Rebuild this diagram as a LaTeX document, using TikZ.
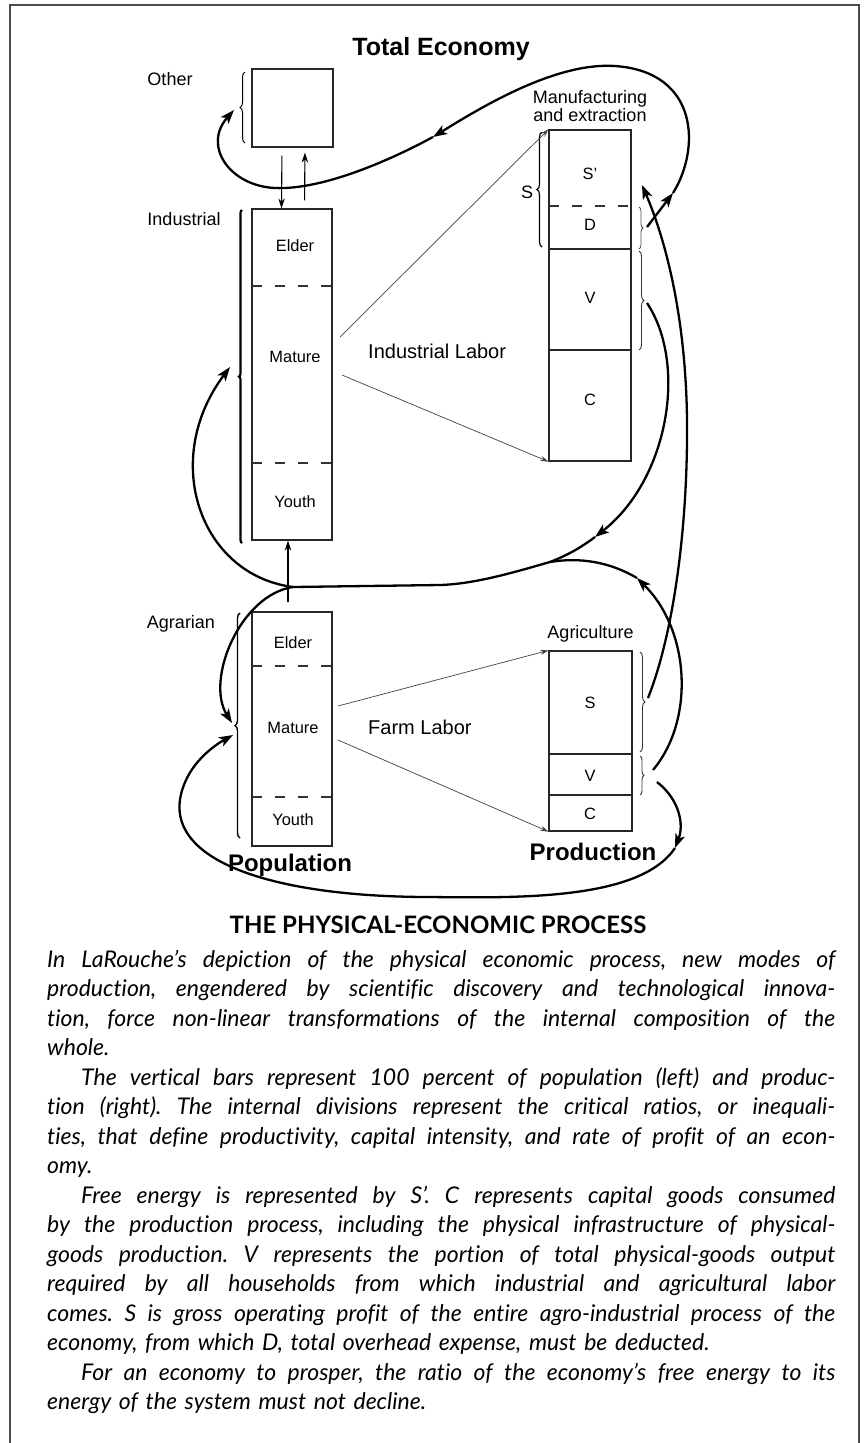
\documentclass[tikz,border=0pt]{standalone}
\usepackage{fontspec}
\setmainfont{Liberation Sans}
\newfontfamily\capfont[Ligatures={NoCommon}]{Lato}
\usetikzlibrary{arrows.meta,decorations.pathreplacing}

% one justified caption line of fixed width
\newcommand{\jl}[1]{\leavevmode\hbox to 788pt{\spaceskip=0.25em plus 1fil minus 0.1em\relax #1}\\}

\begin{document}
\begin{tikzpicture}[x=1pt,y=-1pt,
  box/.style={draw=black!85, line width=1.2pt, inner sep=0pt},
  divdash/.style={line width=1.2pt, draw=black!80, dash pattern=on 10pt off 13pt},
  divline/.style={line width=1.2pt, draw=black!85},
  flowline/.style={line width=2.3pt},
  flow/.style={flowline, -{Stealth[length=14pt,width=10pt,inset=3.5pt]}},
  labor/.style={line width=0.7pt, draw=black!75, -{Stealth[length=8pt,width=5pt]}},
  link/.style={line width=1.1pt, -{Stealth[length=10pt,width=6.5pt]}},
  bracel/.style={decorate, decoration={brace, amplitude=5pt}, line width=1pt},
  bracethick/.style={decorate, decoration={brace, amplitude=3pt}, line width=2.2pt},
  side/.style={font=\fontsize{18}{18}\selectfont, inner sep=0pt, anchor=base},
  inbox/.style={font=\fontsize{16.4}{17}\selectfont, inner sep=0pt, anchor=base},
  mid/.style={font=\fontsize{20}{20}\selectfont, inner sep=0pt, anchor=base west},
  heavy/.style={font=\bfseries\fontsize{24}{24}\selectfont, inner sep=0pt, anchor=base}
]
\useasboundingbox (0,0) rectangle (863,1443);

% frame
\draw[line width=1.6pt, black!70] (10,1443) -- (10,5) -- (859,5) -- (859,1443);

% title
\node[font=\bfseries\fontsize{25}{25}\selectfont, inner sep=0pt, anchor=base] (title) at (441,55) {Total Economy};

% population bars
\node[box, minimum width=81pt, minimum height=78pt] (other) at (292.5,108) {};
\node[box, minimum width=80pt, minimum height=331pt] (ind) at (292,374.5) {};
\node[box, minimum width=80pt, minimum height=234pt] (agr) at (292,729) {};
\draw[divdash] (252,286) -- (332,286);
\draw[divdash] (252,463) -- (332,463);
\draw[divdash] (252,666) -- (332,666);
\draw[divdash] (252,797) -- (332,797);

% production bars
\node[box, minimum width=82pt, minimum height=331pt] (man) at (590,295.5) {};
\node[box, minimum width=83pt, minimum height=180pt] (agri) at (590.5,741) {};
\draw[divdash] (549,206) -- (631,206);
\draw[divline] (549,249) -- (631,249);
\draw[divline] (549,350) -- (631,350);
\draw[divline] (549,754) -- (632,754);
\draw[divline] (549,795) -- (632,795);

% side labels
\node[side] (lother) at (170,85) {Other};
\node[side] (lind) at (184,225) {Industrial};
\node[side] (lagr) at (181,628.5) {Agrarian};
\node[side, align=center, font=\fontsize{18}{18}\selectfont, anchor=base] (lman) at (590,121) {Manufacturing\\and extraction};
\node[side] (lagri) at (590.5,638) {Agriculture};
\node[side] (lS) at (527,198) {S};

% labels inside the bars
\node[inbox] (ie) at (295,251) {Elder};
\node[inbox] (im) at (295,362) {Mature};
\node[inbox] (iy) at (295,507) {Youth};
\node[inbox] (ae) at (293,648) {Elder};
\node[inbox] (am) at (293,733) {Mature};
\node[inbox] (ay) at (293,825) {Youth};
\node[inbox] (ms) at (590,179) {S'};
\node[inbox] (md) at (590,230) {D};
\node[inbox] (mv) at (590,303) {V};
\node[inbox] (mc) at (590,405) {C};
\node[inbox] (gs) at (590,708) {S};
\node[inbox] (gv) at (590,781) {V};
\node[inbox] (gc) at (590,819) {C};

% labour labels and group names
\node[mid] (lil) at (368,358) {Industrial Labor};
\node[mid] (lfl) at (368,734) {Farm Labor};
\node[heavy] (lpop) at (290,871) {Population};
\node[heavy] (lprod) at (593,860) {Production};

% braces
\draw[bracel] (245,143) -- (245,72);
\draw[bracethick] (242,543) -- (242,210);
\draw[bracel, line width=1.4pt] (240,838) -- (240,613);
\draw[bracel, line width=1.2pt] (542,247) -- (542,132);
\draw[bracel, decoration={brace, amplitude=4pt}, line width=0.8pt, black!70] (639,207) -- (639,249);
\draw[bracel, line width=0.9pt, black!80] (639,251) -- (639,350);
\draw[bracel, line width=0.9pt, black!80] (640,652) -- (640,752);
\draw[bracel, decoration={brace, amplitude=4pt}, line width=0.9pt, black!80] (640,756) -- (640,795);

% links between population bars
\draw[link, shorten <=8pt] ([xshift=-10.5pt]other.south) -- ([xshift=-10.5pt]ind.north);
\draw[link, shorten <=8pt, shorten >=5pt] ([xshift=12.5pt]ind.north) -- ([xshift=12.5pt]other.south);
\draw[link, shorten <=9pt] ([xshift=-4pt]agr.north) -- ([xshift=-4pt]ind.south);

% labour lines
\coordinate (il1) at (340,337);
\coordinate (il2) at (342,375);
\coordinate (fl1) at (338,706);
\coordinate (fl2) at (338,740);
\draw[labor] (il1) -- (man.north west);
\draw[labor] (il2) -- (man.south west);
\draw[labor] (fl1) -- (agri.north west);
\draw[labor] (fl2) -- (agri.south west);

% flow points
\coordinate (dfrom) at (647,227);
\coordinate (dtip) at (673,193);
\coordinate (omid) at (433,137);
\coordinate (otip) at (234,110);
\coordinate (sagr) at (648,698);
\coordinate (stip) at (642,185);
\coordinate (vman) at (647,303);
\coordinate (vmanmid) at (595,537);
\coordinate (junc) at (550,562);
\coordinate (vagr) at (653,770);
\coordinate (vagrmid) at (637,578);
\coordinate (split) at (293,587);
\coordinate (indtip) at (230,367);
\coordinate (agrtip) at (232,723);
\coordinate (vagr2) at (657,782);
\coordinate (prodmid) at (675,848);
\coordinate (agrtip2) at (233,735);

% D feeds the other sector
\draw[flow] (dfrom) -- (dtip);
\draw[flow] (dtip) .. controls (700,150) and (700,72) .. (615,66) .. controls (555,62) and (480,108) .. (omid);
\draw[flow] (omid) .. controls (385,163) and (320,190) .. (275,188) .. controls (230,186) and (202,146) .. (otip);

% agricultural surplus into manufacturing
\draw[flow] (sagr) .. controls (675,630) and (688,520) .. (687,420) .. controls (686,330) and (670,250) .. (stip);

% V returns to the households
\draw[flow] (vman) .. controls (688,365) and (668,480) .. (vmanmid);
\draw[flowline] (vmanmid) .. controls (575,552) and (560,558) .. (junc);
\draw[flow] (vagr) .. controls (695,720) and (690,630) .. (vagrmid);
\draw[flowline] (vagrmid) .. controls (610,562) and (580,557) .. (junc);
\draw[flowline] (junc) .. controls (515,572) and (475,584) .. (440,585) -- (split);
\draw[flow] (split) .. controls (200,575) and (160,460) .. (indtip);
\draw[flow] (split) .. controls (240,595) and (205,680) .. (agrtip);

% loop under the production bar
\draw[flow] (vagr2) .. controls (680,800) and (684,825) .. (prodmid);
\draw[flow] (prodmid) .. controls (640,900) and (520,898) .. (430,897) .. controls (265,897) and (148,857) .. (187,778) .. controls (197,758) and (215,745) .. (agrtip2);

% caption
\node[font=\capfont\bfseries\fontsize{24}{24}\selectfont, inner sep=0pt, anchor=base] (head) at (438,933) {THE PHYSICAL-ECONOMIC PROCESS};
\node[anchor=base west, inner sep=0pt, text width=788pt, align=left,
      font=\capfont\itshape\fontsize{23}{29.5}\selectfont\frenchspacing] (body) at (47,967) {%
\jl{In LaRouche’s depiction of the physical economic process, new modes of}
\jl{production, engendered by scientific discovery and technological innova-}
\jl{tion, force non-linear transformations of the internal composition of the}
whole.\\
\jl{\hspace*{34pt}The vertical bars represent 100 percent of population (left) and produc-}
\jl{tion (right). The internal divisions represent the critical ratios, or inequali-}
\jl{ties, that define productivity, capital intensity, and rate of profit of an econ-}
omy.\\
\jl{\hspace*{34pt}Free energy is represented by S’. C represents capital goods consumed}
\jl{by the production process, including the physical infrastructure of physical-}
\jl{goods production. V represents the portion of total physical-goods output}
\jl{required by all households from which industrial and agricultural labor}
\jl{comes. S is gross operating profit of the entire agro-industrial process of the}
economy, from which D, total overhead expense, must be deducted.\\
\jl{\hspace*{34pt}For an economy to prosper, the ratio of the economy’s free energy to its}
energy of the system must not decline.};
\end{tikzpicture}
\end{document}
